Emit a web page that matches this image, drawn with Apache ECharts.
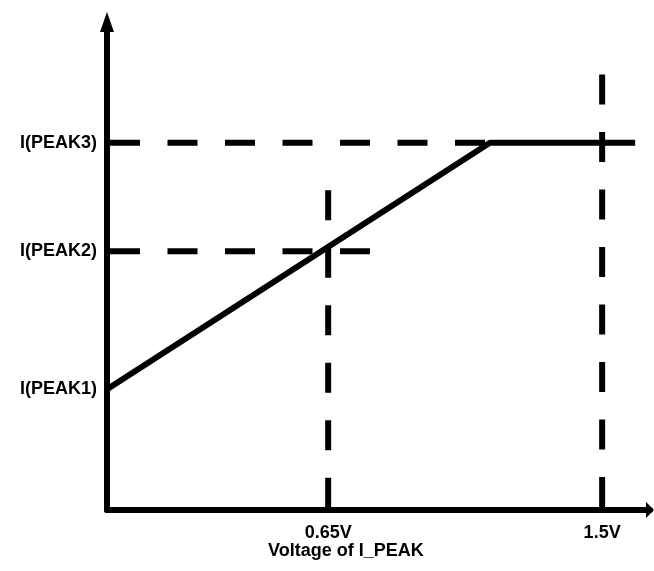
<!DOCTYPE html>
<html>
<head>
<meta charset="utf-8">
<script src="https://cdn.jsdelivr.net/npm/echarts@6/dist/echarts.min.js"></script>
<style>
html,body{margin:0;padding:0;background:#fff;}
#chart{width:654px;height:571px;}
</style>
</head>
<body>
<div id="chart"></div>
<script>
// ---- data (schematic units) ----
const xTickValues = [0.67, 1.5];
const xTickLabels = ['0.65V', '1.5V'];
const yTickValues = [0.99, 2.12, 3.01];
const yTickLabels = ['I(PEAK1)', 'I(PEAK2)', 'I(PEAK3)'];
const xAxisTitle = 'Voltage of I_PEAK';

// main characteristic curve
const curveX = [0, 1.16, 1.6];
const curveY = [0.99, 3.01, 3.01];

// dashed guide lines [x, y] endpoints
const guidePeak3 = [[0, 3.01], [1.16, 3.01]];
const guidePeak2 = [[0, 2.12], [0.8, 2.12]];
const guideV065 = [[0.67, 2.62], [0.67, 0]];
const guideV15 = [[1.5, 3.57], [1.5, 0]];

const xMax = 1.645;
const yMax = 4.0;

// ---- chart ----
const FONT = 'Liberation Sans';
function labelFor(values, labels) {
  return function (v) {
    for (let i = 0; i < values.length; i++) {
      if (Math.abs(values[i] - v) < 1e-6) return labels[i];
    }
    return '';
  };
}
const dashStyle = { color: '#000', width: 6, type: [30, 27.5], cap: 'butt' };
function guideSeries(pts, offset) {
  return {
    type: 'line', data: pts, symbol: 'none', silent: true,
    lineStyle: Object.assign({}, dashStyle, { dashOffset: offset || 0 }),
    z: 2
  };
}

const chart = echarts.init(document.getElementById('chart'), null, { renderer: 'canvas' });
chart.setOption({
  animation: false,
  backgroundColor: '#ffffff',
  title: {
    text: xAxisTitle,
    left: 268, top: 542, padding: 0,
    textStyle: { fontFamily: FONT, fontSize: 18, fontWeight: 'bold', color: '#000' }
  },
  grid: { left: 107, right: 4, top: 22, bottom: 61, containLabel: false },
  xAxis: {
    type: 'value', min: 0, max: xMax,
    axisLine: {
      show: true, onZero: false,
      symbol: ['none', 'triangle'], symbolSize: [16, 8],
      lineStyle: { color: '#000', width: 6 }
    },
    axisTick: { show: false },
    splitLine: { show: false },
    axisLabel: {
      customValues: xTickValues,
      formatter: labelFor(xTickValues, xTickLabels),
      margin: 14, color: '#000', fontFamily: FONT, fontSize: 18, fontWeight: 'bold'
    }
  },
  yAxis: {
    type: 'value', min: 0, max: yMax,
    axisLine: {
      show: true, onZero: false,
      symbol: ['none', 'triangle'], symbolSize: [14, 20],
      lineStyle: { color: '#000', width: 6 }
    },
    axisTick: { show: false },
    splitLine: { show: false },
    axisLabel: {
      customValues: yTickValues,
      formatter: labelFor(yTickValues, yTickLabels),
      margin: 10, color: '#000', fontFamily: FONT, fontSize: 18, fontWeight: 'bold'
    }
  },
  series: [
    guideSeries(guidePeak3, 54.5),
    guideSeries(guidePeak2, 54.5),
    guideSeries(guideV065, 0),
    guideSeries(guideV15, 0),
    {
      type: 'line',
      data: curveX.map((x, i) => [x, curveY[i]]),
      symbol: 'none',
      lineStyle: { color: '#000', width: 6 },
      z: 3
    }
  ]
});
</script>
</body>
</html>
